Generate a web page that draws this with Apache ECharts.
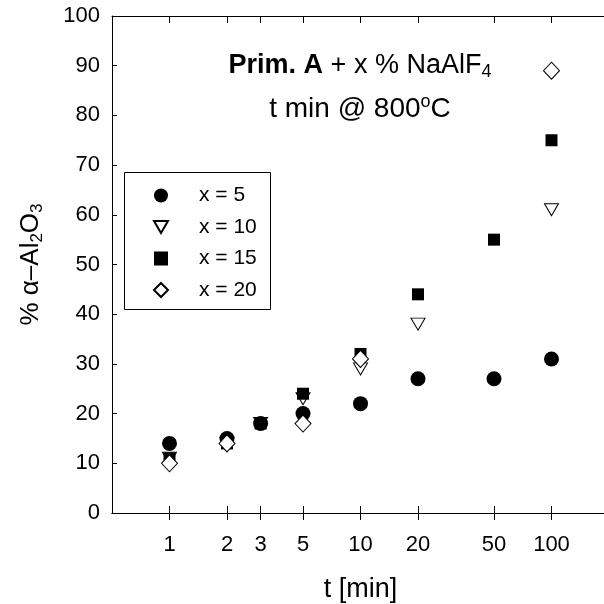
<!DOCTYPE html>
<html>
<head>
<meta charset="utf-8">
<script src="https://cdn.jsdelivr.net/npm/echarts@6/dist/echarts.min.js"></script>
<style>html,body{margin:0;padding:0;background:#fff}#c{width:604px;height:604px}</style>
</head>
<body>
<div id="c"></div>
<script>
// ---- data ----
const tickTimes = [1, 2, 3, 5, 10, 20, 50, 100];
const yTicks = [0, 10, 20, 30, 40, 50, 60, 70, 80, 90, 100];
const seriesNames = ['x = 5', 'x = 10', 'x = 15', 'x = 20'];
const t5 = [1, 2, 3, 5, 10, 20, 50, 100];
const v5 = [14, 15, 18, 20, 22, 27, 27, 31];
const t10 = [1, 2, 3, 5, 10, 20, 100];
const v10 = [11, 14, 18, 23, 29, 38, 61];
const t15 = [1, 2, 3, 5, 10, 20, 50, 100];
const v15 = [11, 14, 18, 24, 32, 44, 55, 75];
const t20 = [1, 2, 5, 10, 100];
const v20 = [10, 14, 18, 31, 89];
const tMin = 0.5, tMax = 200;

const FONT = "'Liberation Sans', Arial, Helvetica, sans-serif";
const lg = Math.log10;
const pairs = (ts, vs) => ts.map((t, i) => [lg(t), vs[i]]);
const tickPos = tickTimes.map(lg);

const chart = echarts.init(document.getElementById('c'), null, {renderer: 'canvas'});
const axisBase = {
  type: 'value', min: lg(tMin), max: lg(tMax),
  splitLine: {show: false},
  axisLine: {show: true, onZero: false, lineStyle: {color: '#000', width: 1}}
};
const hollow = {color: '#fff', borderColor: '#000', borderWidth: 1, opacity: 1};
const option = {
  backgroundColor: '#fff',
  animation: false,
  grid: {left: 112, width: 497, top: 16, height: 497, containLabel: false, outerBoundsMode: 'none'},
  legend: {
    orient: 'vertical', left: 153, top: 185, padding: 0,
    itemWidth: 14, itemHeight: 14, itemGap: 10.5,
    data: [
      {name: seriesNames[0]},
      {name: seriesNames[1], icon: 'path://M0,0L14,0L7,12Z'},
      {name: seriesNames[2]},
      {name: seriesNames[3]}
    ],
    textStyle: {fontFamily: FONT, fontSize: 21, color: '#000', lineHeight: 14, padding: [0, 0, 0, 26]}
  },
  xAxis: [
    Object.assign({}, axisBase, {
      position: 'bottom',
      axisTick: {show: true, inside: false, length: 7, customValues: tickPos, lineStyle: {color: '#000'}},
      axisLabel: {show: true, customValues: tickPos, margin: 21, fontFamily: FONT, fontSize: 22, color: '#000',
        formatter: v => String(Math.round(Math.pow(10, v)))},
      name: 't [min]', nameLocation: 'middle', nameGap: 63,
      nameTextStyle: {fontFamily: FONT, fontSize: 27, color: '#000'}
    }),
    Object.assign({}, axisBase, {
      position: 'bottom',
      axisTick: {show: true, inside: true, length: 7, customValues: tickPos, lineStyle: {color: '#000'}},
      axisLabel: {show: false}
    }),
    Object.assign({}, axisBase, {
      position: 'top',
      axisTick: {show: true, inside: true, length: 7, customValues: tickPos, lineStyle: {color: '#000'}},
      axisLabel: {show: false}
    })
  ],
  yAxis: [
    {
      type: 'value', min: yTicks[0], max: yTicks[yTicks.length - 1], interval: 10, position: 'left',
      splitLine: {show: false},
      axisLine: {show: true, onZero: false, lineStyle: {color: '#000', width: 1}},
      axisTick: {show: true, inside: true, length: 5, lineStyle: {color: '#000'}},
      axisLabel: {margin: 12, fontFamily: FONT, fontSize: 22, color: '#000'},
      name: '% α–Al{s|2}O{s|3}', nameLocation: 'middle', nameGap: 66, nameRotate: 90,
      nameTextStyle: {fontFamily: FONT, fontSize: 26, color: '#000', lineHeight: 30,
        rich: {s: {fontFamily: FONT, fontSize: 17, lineHeight: 17, verticalAlign: 'bottom', color: '#000'}}}
    },
    {
      type: 'value', min: 0, max: 100, interval: 10, position: 'right',
      splitLine: {show: false},
      axisLine: {show: true, onZero: false, lineStyle: {color: '#000', width: 1}},
      axisTick: {show: true, inside: true, length: 5, lineStyle: {color: '#000'}},
      axisLabel: {show: false}
    }
  ],
  graphic: [
    {
      type: 'rect', silent: true, z: 0,
      shape: {x: 124.5, y: 172.5, width: 146, height: 137},
      style: {fill: 'none', stroke: '#000', lineWidth: 1}
    },
    {
      type: 'text', x: 360, y: 66, silent: true,
      style: {
        text: '{b|Prim. A} + x % NaAlF{s|4}',
        fontFamily: FONT, fontSize: 27, fill: '#000', lineHeight: 31,
        align: 'center', verticalAlign: 'middle',
        rich: {
          b: {fontFamily: FONT, fontSize: 27, fontWeight: 'bold', lineHeight: 31, color: '#000'},
          s: {fontFamily: FONT, fontSize: 18, lineHeight: 18, verticalAlign: 'bottom', color: '#000'}
        }
      }
    },
    {
      type: 'text', x: 360, y: 109, silent: true,
      style: {
        text: 't min @ 800{o|o}C',
        fontFamily: FONT, fontSize: 28, fill: '#000', lineHeight: 32,
        align: 'center', verticalAlign: 'middle',
        rich: {
          o: {fontFamily: FONT, fontSize: 18, lineHeight: 18, verticalAlign: 'top', color: '#000'}
        }
      }
    }
  ],
  series: [
    {name: seriesNames[0], type: 'scatter', data: pairs(t5, v5), symbol: 'circle', symbolSize: 15,
      itemStyle: {color: '#000', opacity: 1}},
    {name: seriesNames[1], type: 'scatter', data: pairs(t10, v10), symbol: 'triangle', symbolRotate: 180,
      symbolSize: [14, 12], itemStyle: hollow},
    {name: seriesNames[2], type: 'scatter', data: pairs(t15, v15), symbol: 'rect', symbolSize: 12,
      itemStyle: {color: '#000', opacity: 1}},
    {name: seriesNames[3], type: 'scatter', data: pairs(t20, v20), symbol: 'diamond', symbolSize: [16, 17],
      itemStyle: hollow}
  ]
};
chart.setOption(option);
</script>
</body>
</html>
